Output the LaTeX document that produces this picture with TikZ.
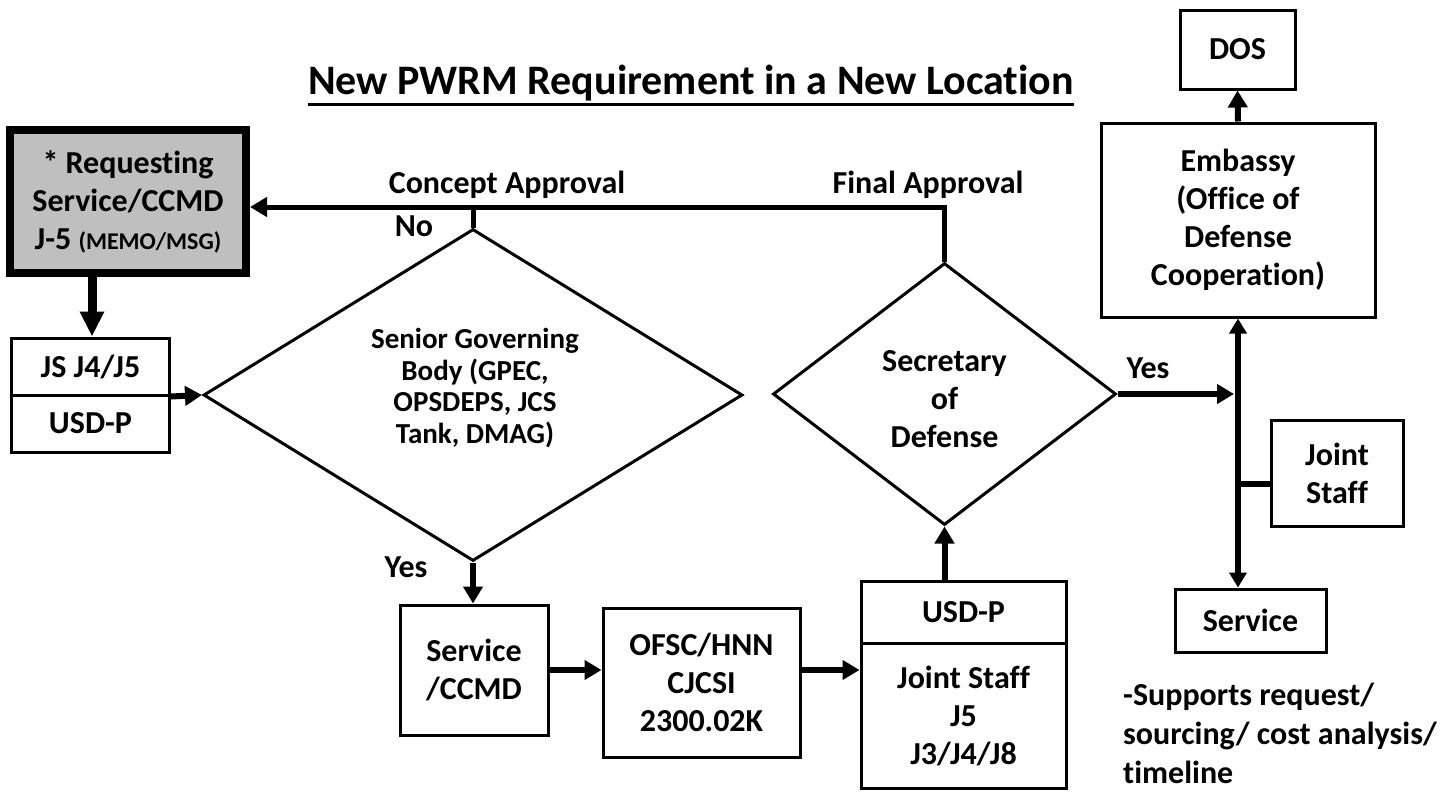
\documentclass[tikz,border=0pt]{standalone}
\usepackage{fontspec}
\setmainfont{Carlito}[Ligatures=NoCommon]
\usetikzlibrary{arrows.meta,shapes.geometric}
\definecolor{reqgray}{HTML}{BFBFBF}
\tikzset{
  txt/.style={font=\fontsize{32}{38}\selectfont\bfseries, align=center, inner sep=0pt},
  box/.style={txt, draw, line width=3pt},
  dia/.style={txt, draw, line width=3pt, diamond},
  tip/.style={-{Triangle[length=17pt,width=19pt]}},
  flow/.style={line width=6pt, tip},
}
\begin{document}
\begin{tikzpicture}[x=1pt,y=-1pt]
\useasboundingbox[fill=white] (0,0) rectangle (1453,795);

% title
\node[txt, font=\fontsize{42}{50}\selectfont\bfseries, anchor=base] (title) at (691,94)
  {New PWRM Requirement in a New Location};
\draw[line width=3pt] ([yshift=-10pt]title.base west) -- ([yshift=-10pt]title.base east);

% boxes
\node[box, line width=8pt, fill=reqgray, minimum width=236pt, minimum height=143pt] (req) at (128,201.5)
  {\fontsize{32}{38}\selectfont * Requesting\\Service/CCMD\\J-5 {\fontsize{24}{38}\selectfont (MEMO/MSG)}};
\node[box, minimum width=158pt, minimum height=57pt] (jsA) at (90.5,366.5) {JS J4/J5};
\node[box, minimum width=158pt, minimum height=57pt] (usdA) at (90.5,423.5) {USD-P};

\node[dia, minimum width=539pt, minimum height=332pt] (d1) at (473,395) {};
\node[txt, font=\fontsize{29}{31.5}\selectfont\bfseries] (d1t) at (475,388)
  {Senior Governing\\Body (GPEC,\\OPSDEPS, JCS\\Tank, DMAG)};

\node[box, minimum width=148pt, minimum height=130pt] (svc) at (474,670) {Service\\/CCMD};
\node[box, minimum width=197pt, minimum height=149pt] (ofsc) at (701.5,682.5) {OFSC/HNN\\CJCSI\\2300.02K};
\node[box, minimum width=205pt, minimum height=62pt] (usdB) at (963.5,612) {USD-P};
\node[box, minimum width=205pt, minimum height=145pt] (jsB) at (963.5,715.5) {Joint Staff\\J5\\J3/J4/J8};

\node[dia, minimum width=343pt, minimum height=262pt] (d2) at (944.5,394) {};
\node[txt] (d2t) at (944.5,399) {Secretary\\of\\Defense};

\node[box, minimum width=274pt, minimum height=194pt] (emb) at (1238,220)
  {Embassy\\(Office of\\Defense\\Cooperation)};
\node[box, minimum width=115pt, minimum height=79pt] (dos) at (1237.5,49.5) {DOS};
\node[box, minimum width=132pt, minimum height=106pt] (jst) at (1337,473) {Joint\\Staff};
\node[box, minimum width=151pt, minimum height=63pt] (srv) at (1250.5,620.5) {Service};

\node[txt, align=left, anchor=north west, font=\fontsize{32}{39}\selectfont\bfseries] (note) at (1123,683)
  {-Supports request/\\sourcing/ cost analysis/\\timeline};

% labels
\node[txt, anchor=base] (lca) at (507,193) {Concept Approval};
\node[txt, anchor=base] (lfa) at (928,193) {Final Approval};
\node[txt] (lno) at (414,226) {No};
\node[txt] (lyes1) at (406,567) {Yes};
\node[txt] (lyes2) at (1148,368) {Yes};

% connectors
\coordinate (fa) at (944.5,207);
\draw[line width=5pt, tip, line join=miter] (d2.north) -- (fa) -- (fa -| req.east);
\draw[line width=5pt] (d1.north) -- (d1.north |- fa);
\draw[line width=9pt, -{Triangle[length=25pt,width=23pt]}] ([xshift=-36pt]req.south) -- ([xshift=-36pt]req.south |- jsA.north);
\draw[flow] (jsA.south east) -- (d1.west);
\draw[flow] (d1.south) -- (d1.south |- svc.north);
\draw[flow] (svc.east) -- (svc.east -| ofsc.west);
\draw[flow] (svc.east -| ofsc.east) -- (svc.east -| jsB.west);
\draw[flow] (d2.south |- usdB.north) -- (d2.south);
\draw[flow, shorten >=4pt] (d2.east) -- (d2.east -| emb.south);
\draw[line width=6pt, {Triangle[length=15pt,width=17pt]}-{Triangle[length=15pt,width=17pt]}] (emb.south) -- (emb.south |- srv.north);
\coordinate (jc) at ([yshift=-11pt]jst.west);
\draw[line width=6pt] (jc) -- (jc -| emb.south);
\draw[flow] (emb.north) -- (dos.south);
\end{tikzpicture}
\end{document}
